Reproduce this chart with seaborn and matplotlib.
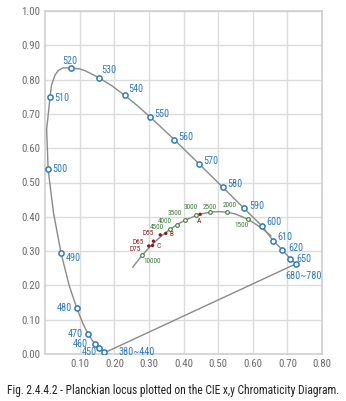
import matplotlib
matplotlib.use("Agg")
import matplotlib.pyplot as plt
import matplotlib.font_manager as fm
import seaborn as sns
import pandas as pd

# ---- data -------------------------------------------------------------
# spectral locus curve (CIE 1931)
locus_x = [0.1741, 0.1733, 0.1714, 0.1689, 0.1644, 0.1611, 0.1566, 0.1510, 0.1440,
           0.1355, 0.1241, 0.1096, 0.0913, 0.0687, 0.0454, 0.0235, 0.0082, 0.0039,
           0.0139, 0.0180, 0.0280, 0.0380, 0.0520, 0.0743, 0.1000, 0.1142, 0.1547,
           0.1929, 0.2296, 0.2658, 0.3016, 0.3373, 0.3731, 0.4087, 0.4441, 0.4788,
           0.5125, 0.5448, 0.5752, 0.6029, 0.6270, 0.6590, 0.6850, 0.7080, 0.7250]
locus_y = [0.0050, 0.0048, 0.0051, 0.0069, 0.0109, 0.0138, 0.0177, 0.0227, 0.0297,
           0.0399, 0.0578, 0.0868, 0.1327, 0.2007, 0.2950, 0.4127, 0.5384, 0.6548,
           0.7502, 0.7840, 0.8130, 0.8270, 0.8345, 0.8338, 0.8310, 0.8262, 0.8059,
           0.7816, 0.7543, 0.7243, 0.6923, 0.6589, 0.6245, 0.5896, 0.5547, 0.5202,
           0.4866, 0.4544, 0.4242, 0.3965, 0.3725, 0.3300, 0.3040, 0.2780, 0.2630]

# labelled wavelength points
wl_labels = ["380~440", "450", "460", "470", "480", "490", "500", "510", "520", "530",
             "540", "550", "560", "570", "580", "590", "600", "610", "620", "650", "680~780"]
wl_x = [0.1700, 0.1566, 0.1440, 0.1241, 0.0913, 0.0454, 0.0082, 0.0139, 0.0743, 0.1547,
        0.2296, 0.3016, 0.3731, 0.4441, 0.5125, 0.5752, 0.6270, 0.6590, 0.6850, 0.7080, 0.7250]
wl_y = [0.0050, 0.0177, 0.0297, 0.0578, 0.1327, 0.2950, 0.5384, 0.7502, 0.8338, 0.8059,
        0.7543, 0.6923, 0.6245, 0.5547, 0.4866, 0.4242, 0.3725, 0.3300, 0.3040, 0.2780, 0.2630]

# Planckian locus (curve)
planck_T = [25000, 15000, 10000, 8000, 7000, 6500, 6000, 5500, 5000, 4500, 4000, 3500,
            3000, 2800, 2500, 2200, 2000, 1800, 1500, 1200, 1000]
planck_x = [0.2525, 0.2637, 0.2807, 0.2952, 0.3064, 0.3135, 0.3221, 0.3324, 0.3451,
            0.3608, 0.3805, 0.4053, 0.4369, 0.4521, 0.4770, 0.5019, 0.5267, 0.5496,
            0.5857, 0.6251, 0.6528]
planck_y = [0.2524, 0.2673, 0.2883, 0.3048, 0.3166, 0.3237, 0.3318, 0.3410, 0.3516,
            0.3636, 0.3768, 0.3907, 0.4041, 0.4086, 0.4137, 0.4152, 0.4133, 0.4081,
            0.3931, 0.3674, 0.3444]

# labelled colour temperatures
cct_labels = ["10000", "4500", "4000", "3500", "3000", "2500", "2000", "1500"]
cct_x = [0.2807, 0.3608, 0.3805, 0.4053, 0.4369, 0.4770, 0.5267, 0.5857]
cct_y = [0.2883, 0.3636, 0.3768, 0.3907, 0.4041, 0.4137, 0.4133, 0.3931]

# standard illuminants
illum_names = ["D55", "D65", "D75", "A", "B", "C"]
illum_x = [0.3324, 0.3127, 0.2990, 0.4476, 0.3484, 0.3101]
illum_y = [0.3474, 0.3290, 0.3149, 0.4074, 0.3516, 0.3162]

x_ticks = [0.10, 0.20, 0.30, 0.40, 0.50, 0.60, 0.70, 0.80]
y_ticks = [0.00, 0.10, 0.20, 0.30, 0.40, 0.50, 0.60, 0.70, 0.80, 0.90, 1.00]

caption = "Fig. 2.4.4.2 - Planckian locus plotted on the CIE x,y Chromaticity Diagram."

# ---- styling (label offsets in pixels, alignment) -------------------------
wl_off = {"380~440": (14, 0, "left"), "450": (-3, -4, "right"), "460": (-7, 0, "right"),
          "470": (-5, 0, "right"), "480": (-5, 0, "right"), "490": (5, -5, "left"),
          "500": (4, 0, "left"), "510": (4, -1, "left"), "520": (-1, 7, "center"),
          "530": (2, 8, "left"), "540": (4, 6, "left"), "550": (5, 3, "left"),
          "560": (4, 3, "left"), "570": (4.5, 2.5, "left"), "580": (4.5, 3, "left"),
          "590": (5, 2, "left"), "600": (4, 4, "left"), "610": (4, 3.5, "left"),
          "620": (6, 2, "left"), "650": (6, 0, "left"), "680~780": (-11, -12, "left")}
cct_off = {"10000": (1, -6, "left"), "4500": (-6, 2, "right"), "4000": (-5, 3.5, "right"),
           "3500": (-4, 6, "right"), "3000": (-6, 7.5, "center"), "2500": (-1, 5, "center"),
           "2000": (2, 6.3, "center"), "1500": (-6, -6.3, "center")}
illum_off = {"D55": (-6, 1, "right"), "D65": (-10, -1, "right"), "D75": (-8, -3.7, "right"),
             "A": (-1, -7, "center"), "B": (6, -1, "center"), "C": (6.4, -1.3, "center")}

BLUE = "#2e7bbf"
GREEN = "#3d7d3a"
RED = "#8e1b1b"
LINE = "#8a8a8a"

sns.set_theme(style="whitegrid")
avail = {f.name for f in fm.fontManager.ttflist}
fam = [f for f in ["Liberation Sans Narrow", "Roboto Condensed", "Liberation Sans"] if f in avail] + ["DejaVu Sans"]
plt.rcParams["font.family"] = fam

fig = plt.figure(figsize=(3.46, 4.01), dpi=100)
ax = fig.add_axes([45.3 / 346, 1 - 354 / 401, (322 - 45.3) / 346, (354 - 11) / 401])

locus_df = pd.DataFrame({"x": locus_x + [locus_x[0]], "y": locus_y + [locus_y[0]]})
sns.lineplot(data=locus_df, x="x", y="y", sort=False, estimator=None, color=LINE, lw=1.0, ax=ax, zorder=2)
planck_df = pd.DataFrame({"x": planck_x, "y": planck_y})
sns.lineplot(data=planck_df, x="x", y="y", sort=False, estimator=None, color=LINE, lw=1.0, ax=ax, zorder=2)

sns.scatterplot(x=wl_x, y=wl_y, marker="o", s=14, facecolor="white", edgecolor=BLUE,
                linewidth=1.1, ax=ax, zorder=4)
sns.scatterplot(x=cct_x, y=cct_y, marker="o", s=7, facecolor="white", edgecolor=GREEN,
                linewidth=0.8, ax=ax, zorder=4)
sns.scatterplot(x=illum_x, y=illum_y, marker="o", s=6, color=RED, edgecolor="none",
                ax=ax, zorder=4)

for lab, x, y in zip(wl_labels, wl_x, wl_y):
    dx, dy, ha = wl_off[lab]
    ax.annotate(lab, (x, y), xytext=(dx, dy), textcoords="offset pixels", ha=ha, va="center",
                color=BLUE, fontsize=7.3, zorder=5)
for lab, x, y in zip(cct_labels, cct_x, cct_y):
    dx, dy, ha = cct_off[lab]
    ax.annotate(lab, (x, y), xytext=(dx, dy), textcoords="offset pixels", ha=ha, va="center",
                color=GREEN, fontsize=5.2, zorder=5)
for lab, x, y in zip(illum_names, illum_x, illum_y):
    dx, dy, ha = illum_off[lab]
    ax.annotate(lab, (x, y), xytext=(dx, dy), textcoords="offset pixels", ha=ha, va="center",
                color=RED, fontsize=5.2, zorder=5)

ax.set_xlim(0, 0.80)
ax.set_ylim(0, 1.00)
ax.set_xticks(x_ticks)
ax.set_yticks(y_ticks)
ax.set_xticklabels([f"{v:.2f}" for v in x_ticks])
ax.set_yticklabels([f"{v:.2f}" for v in y_ticks])
ax.set_xlabel("")
ax.set_ylabel("")
ax.grid(True, color="#dcdcdc", lw=1.0)
ax.set_axisbelow(True)
for sp in ax.spines.values():
    sp.set_color("#cfcfcf")
    sp.set_linewidth(1.2)
ax.tick_params(axis="both", length=0, labelsize=7.8, labelcolor="#6a6a6a", pad=3.5)
ax.set_facecolor("white")

fig.text(0.5, 1 - 390.7 / 401, caption, ha="center", va="center", fontsize=8.3, color="#222222")

fig.savefig("out.png", dpi=100)
